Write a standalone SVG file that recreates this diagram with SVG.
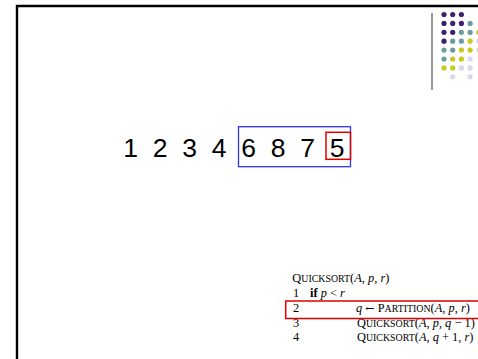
<svg xmlns="http://www.w3.org/2000/svg" width="478" height="359" viewBox="0 0 478 359">
<style>
.frame{fill:none;stroke:#000;stroke-width:2.4}
.num{font-family:"Liberation Sans",Arial,sans-serif;font-size:26.5px;fill:#000;text-anchor:middle}
.code{font-family:"Liberation Serif","DejaVu Serif",serif;font-size:12.4px;fill:#000}
.sc{font-size:9.9px}
.it{font-style:italic}
.bf{font-weight:bold}
.arr{font-family:"DejaVu Serif",serif;font-size:11px}
.P{fill:#3f1f70}.T{fill:#6a9e9e}.Y{fill:#c9c81f}.L{fill:#d8d8ea}
</style>
<g id="frame">
<path class="frame" d="M17,359 V6 H478"/>
<line x1="432" y1="13" x2="432" y2="90" stroke="#333" stroke-width="1"/>
</g>
<g id="dots">
<circle class="P" cx="444" cy="14.5" r="2.6"/><circle class="P" cx="452.7" cy="14.5" r="2.6"/><circle class="P" cx="461.4" cy="14.5" r="2.6"/>
<circle class="P" cx="444" cy="23.4" r="2.6"/><circle class="P" cx="452.7" cy="23.4" r="2.6"/><circle class="P" cx="461.4" cy="23.4" r="2.6"/><circle class="T" cx="470.1" cy="23.4" r="2.6"/>
<circle class="P" cx="444" cy="32.3" r="2.6"/><circle class="P" cx="452.7" cy="32.3" r="2.6"/><circle class="T" cx="461.4" cy="32.3" r="2.6"/><circle class="T" cx="470.1" cy="32.3" r="2.6"/><circle class="Y" cx="478.8" cy="32.3" r="2.6"/>
<circle class="P" cx="444" cy="41.2" r="2.6"/><circle class="T" cx="452.7" cy="41.2" r="2.6"/><circle class="T" cx="461.4" cy="41.2" r="2.6"/><circle class="Y" cx="470.1" cy="41.2" r="2.6"/><circle class="L" cx="478.8" cy="41.2" r="2.6"/>
<circle class="T" cx="444" cy="50.1" r="2.6"/><circle class="T" cx="452.7" cy="50.1" r="2.6"/><circle class="Y" cx="461.4" cy="50.1" r="2.6"/><circle class="Y" cx="470.1" cy="50.1" r="2.6"/><circle class="L" cx="478.8" cy="50.1" r="2.6"/>
<circle class="T" cx="444" cy="59" r="2.6"/><circle class="Y" cx="452.7" cy="59" r="2.6"/><circle class="Y" cx="461.4" cy="59" r="2.6"/><circle class="L" cx="470.1" cy="59" r="2.6"/>
<circle class="Y" cx="444" cy="67.9" r="2.6"/><circle class="Y" cx="452.7" cy="67.9" r="2.6"/><circle class="L" cx="461.4" cy="67.9" r="2.6"/><circle class="L" cx="470.1" cy="67.9" r="2.6"/>
<circle class="L" cx="452.7" cy="76.8" r="2.6"/><circle class="L" cx="470.1" cy="76.8" r="2.6"/>
</g>
<g id="array">
<text class="num" x="130.5" y="157">1</text>
<text class="num" x="160" y="157">2</text>
<text class="num" x="189.5" y="157">3</text>
<text class="num" x="219" y="157">4</text>
<text class="num" x="248.5" y="157">6</text>
<text class="num" x="278" y="157">8</text>
<text class="num" x="307.5" y="157">7</text>
<text class="num" x="337" y="157">5</text>
<rect id="subarray" x="238.5" y="126.7" width="112" height="40" fill="none" stroke="#3333ff" stroke-width="1.3"/>
<rect id="pivot" x="326" y="132.3" width="24.5" height="27" fill="none" stroke="#e00000" stroke-width="1.5"/>
</g>
<g id="code" class="code">
<text x="292.3" y="282">Q<tspan class="sc">UICKSORT</tspan>(<tspan class="it">A</tspan>, <tspan class="it">p</tspan>, <tspan class="it">r</tspan>)</text>
<text x="293" y="297">1</text>
<text x="310" y="297"><tspan class="bf">if</tspan> <tspan class="it">p</tspan> &lt; <tspan class="it">r</tspan></text>
<text x="293" y="312">2</text>
<text x="356" y="312"><tspan class="it">q</tspan> <tspan class="arr">←</tspan> P<tspan class="sc">ARTITION</tspan>(<tspan class="it">A</tspan>, <tspan class="it">p</tspan>, <tspan class="it">r</tspan>)</text>
<text x="293" y="326.5">3</text>
<text x="357" y="326.5">Q<tspan class="sc">UICKSORT</tspan>(<tspan class="it">A</tspan>, <tspan class="it">p</tspan>, <tspan class="it">q</tspan> − 1)</text>
<text x="293" y="341">4</text>
<text x="357" y="341">Q<tspan class="sc">UICKSORT</tspan>(<tspan class="it">A</tspan>, <tspan class="it">q</tspan> + 1, <tspan class="it">r</tspan>)</text>
<rect id="highlight" x="285.7" y="301" width="200" height="17.5" fill="none" stroke="#e00000" stroke-width="1.5"/>
</g>
</svg>
